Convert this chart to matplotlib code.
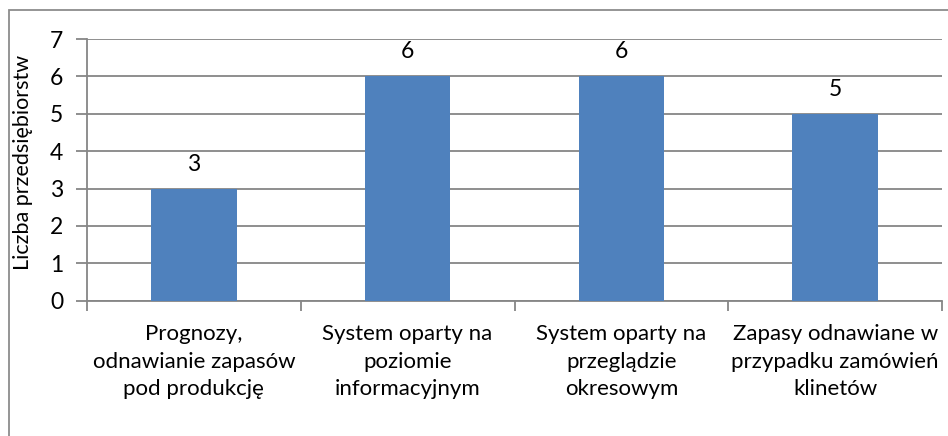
import matplotlib.pyplot as plt
from matplotlib.patches import Rectangle
import numpy as np

# chart data
categories = [
    "Prognozy,\nodnawianie zapasów\npod produkcję",
    "System oparty na\npoziomie\ninformacyjnym",
    "System oparty na\nprzeglądzie\nokresowym",
    "Zapasy odnawiane w\nprzypadku zamówień\nklinetów",
]
values = [3, 6, 6, 5]
y_ticks = [0, 1, 2, 3, 4, 5, 6, 7]

plt.rcParams['font.family'] = ['Lato', 'DejaVu Sans']

W, H = 948, 436
fig = plt.figure(figsize=(W / 100, H / 100), dpi=100)
fig.patch.set_facecolor('white')

# outer chart frame (cut off at right and bottom like the reference)
fig.patches.append(Rectangle((9 / W, -0.1), 1.2, 1.1 - 10 / H, transform=fig.transFigure,
                             fill=False, edgecolor='#8c8c8c', linewidth=1.3))

left, right, top, bottom = 87, 942, 39, 300.7
ax = fig.add_axes([left / W, (H - bottom) / H, (right - left) / W, (bottom - top) / H])

x = np.arange(len(values))
bars = ax.bar(x, values, width=0.4, color='#4f81bd', zorder=3)
for xi, v in zip(x, values):
    ax.annotate(str(v), (xi, v), xytext=(0, 10), textcoords='offset points',
                ha='center', va='bottom', fontsize=16.5, color='black')

ax.set_xlim(-0.5, len(values) - 0.5)
ax.set_ylim(0, 7)
ax.set_yticks(y_ticks)
ax.tick_params(axis='y', labelsize=16.5, length=8, width=1.3, color='#868686', pad=9)
ax.yaxis.grid(True, color='#868686', linewidth=1.3, zorder=0)

ax.set_xticks(x)
ax.set_xticklabels(categories, fontsize=16, linespacing=1.45)
ax.tick_params(axis='x', length=0, pad=17)
ax.set_xticks(np.arange(len(values) + 1) - 0.5, minor=True)
ax.tick_params(axis='x', which='minor', length=7, width=1.3, color='#868686')

for side in ['top', 'right']:
    ax.spines[side].set_visible(False)
for side in ['left', 'bottom']:
    ax.spines[side].set_color('#868686')
    ax.spines[side].set_linewidth(1.3)

ax.set_ylabel('Liczba przedsiębiorstw', fontsize=15.5)
ax.yaxis.set_label_coords(-54 / (right - left), 0.528)

fig.savefig('out.png', dpi=100)
